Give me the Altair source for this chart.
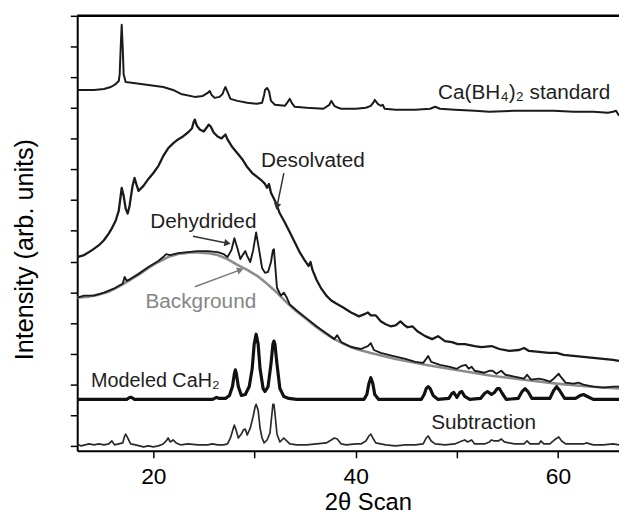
import altair as alt
import pandas as pd

# ---------------- data (2θ in degrees, intensity in arb. units) ----------------
STANDARD = [(12.47,360),(14.13,360),(15.11,361),(15.79,363),(16.28,366),(16.58,369),(16.67,376),(16.77,403),(16.87,426),(16.97,403),(17.06,376),(17.26,368),(18.04,367),(19.51,365),(20.97,363),(21.95,360),(22.73,356),(24.10,353),(24.89,354),(25.37,357),(25.57,359),(25.76,355),(26.06,352),(26.55,353),(26.84,356),(27.03,361),(27.13,363),(27.33,358),(27.62,351),(28.31,349),(29.28,347),(30.26,346),(30.75,347),(30.95,355),(31.04,360),(31.24,362),(31.43,359),(31.63,349),(32.02,345),(33.00,344),(33.29,348),(33.49,351),(33.68,347),(33.98,343),(35.15,342),(36.81,341),(37.40,345),(37.59,349),(37.89,344),(38.28,342),(38.57,341),(40.04,341),(41.01,342),(41.50,344),(41.80,348),(41.89,350),(42.19,346),(42.48,344),(42.68,345),(42.87,341),(43.95,340),(45.90,340),(47.37,341),(47.86,343),(48.34,341),(49.81,340),(51.77,339),(53.23,338),(55.68,339),(59.58,339),(61.54,338),(63.50,338),(64.96,337),(65.45,338),(65.75,339),(66.04,334)]

DESOLVATED = [(12.47,191),(13.16,193),(13.94,198),(14.62,203),(15.11,208),(15.60,215),(15.89,220),(16.28,228),(16.58,238),(16.77,253),(16.87,261),(17.06,253),(17.26,240),(17.46,235),(17.65,243),(17.94,263),(18.14,271),(18.34,264),(18.53,258),(19.02,263),(19.51,270),(20.00,276),(20.49,283),(20.97,293),(21.46,301),(21.95,306),(22.44,310),(22.93,313),(23.42,317),(23.81,321),(24.00,328),(24.10,330),(24.30,324),(24.59,320),(24.98,318),(25.28,322),(25.47,325),(25.67,323),(25.96,317),(26.35,313),(26.74,311),(27.13,315),(27.33,310),(27.82,302),(28.31,296),(28.79,290),(29.28,282),(29.77,276),(30.26,272),(30.75,268),(31.04,265),(31.24,261),(31.43,265),(31.63,256),(32.02,248),(32.51,235),(33.00,226),(33.49,216),(33.98,206),(34.46,196),(34.95,188),(35.34,182),(35.54,186),(35.73,178),(36.13,168),(36.61,159),(37.10,152),(37.59,147),(38.08,144),(38.77,140),(39.55,135),(40.33,131),(40.82,133),(41.21,135),(41.50,132),(41.99,132),(42.48,126),(42.97,123),(43.46,121),(43.95,122),(44.43,126),(44.73,123),(45.12,120),(45.61,121),(46.10,116),(46.88,111),(47.56,108),(48.15,111),(48.83,106),(49.52,105),(50.10,103),(50.79,103),(51.77,101),(52.45,100),(53.43,101),(54.21,98),(55.19,96),(56.17,97),(56.65,99),(57.14,96),(58.12,95),(59.10,94),(59.88,94),(60.56,92),(61.54,91),(62.52,90),(63.50,89),(64.47,88),(65.45,87),(66.04,86)]

DEHYDRIDED = [(12.47,150),(13.16,152),(14.13,152),(15.11,155),(15.60,157),(16.09,159),(16.58,162),(16.97,164),(17.16,171),(17.36,167),(17.75,169),(18.53,174),(19.51,181),(20.49,187),(20.97,191),(21.27,194),(21.66,193),(22.44,195),(23.42,196),(24.40,197),(25.37,197),(26.35,196),(26.94,194),(27.33,191),(27.72,198),(28.01,210),(28.31,200),(28.60,189),(28.89,194),(29.09,197),(29.28,192),(29.58,186),(29.87,198),(30.16,216),(30.46,198),(30.75,180),(31.04,175),(31.34,176),(31.63,186),(31.82,198),(31.92,199),(32.02,186),(32.22,160),(32.61,152),(32.90,155),(33.19,150),(33.49,143),(34.17,137),(35.15,129),(36.13,121),(37.10,114),(37.89,108),(38.18,112),(38.57,105),(39.55,100),(40.52,98),(41.21,101),(41.50,104),(41.80,97),(42.48,94),(43.65,91),(44.92,88),(45.90,85),(46.68,84),(46.98,88),(47.17,91),(47.47,85),(48.34,82),(49.32,80),(50.01,78),(50.50,81),(50.89,82),(51.18,78),(51.47,80),(51.77,76),(52.74,74),(53.23,76),(53.53,76),(53.92,73),(54.40,76),(54.80,72),(55.68,70),(56.65,68),(56.95,72),(57.34,67),(58.12,68),(58.61,67),(59.20,65),(59.58,68),(60.08,73),(60.27,70),(60.76,64),(61.54,63),(62.03,64),(62.52,62),(63.50,60),(64.47,59),(65.45,60),(66.04,60)]

BACKGROUND = [(12.47,150),(13.64,151),(14.62,153),(15.60,156),(16.58,161),(17.55,167),(18.53,173),(19.51,180),(20.49,186),(21.46,191),(22.44,194),(23.91,196),(25.37,195),(26.35,193),(27.33,189),(28.31,183),(29.28,178),(30.26,172),(31.24,164),(32.22,155),(33.19,145),(34.17,136),(35.15,128),(36.13,120),(37.10,113),(38.08,107),(39.06,102),(40.04,98),(41.50,94),(43.95,88),(46.88,82),(49.81,77),(53.43,71),(56.65,67),(59.88,63),(63.01,60),(66.04,58)]

MODELED = [(12.47,47),(17.36,47),(17.65,49),(17.85,49),(18.14,47),(25.86,47),(26.25,49),(26.55,48),(27.13,48),(27.52,51),(27.82,60),(28.01,73),(28.11,77),(28.21,73),(28.40,60),(28.70,51),(29.09,52),(29.48,60),(29.77,78),(29.97,103),(30.16,113),(30.36,103),(30.55,78),(30.85,58),(31.04,55),(31.34,60),(31.63,83),(31.82,103),(31.92,106),(32.02,103),(32.22,83),(32.51,58),(32.90,50),(33.39,48),(34.17,47),(40.82,47),(41.11,52),(41.31,63),(41.50,69),(41.70,63),(41.89,52),(42.28,47),(46.49,47),(46.78,52),(46.98,58),(47.17,60),(47.37,58),(47.66,51),(48.15,47),(49.22,48),(49.52,53),(49.71,54),(50.01,49),(50.30,54),(50.50,55),(50.79,50),(51.28,47),(52.35,48),(52.74,53),(53.04,55),(53.43,52),(53.72,54),(54.01,58),(54.21,58),(54.50,53),(54.89,47),(56.07,48),(56.46,55),(56.75,58),(57.04,55),(57.43,48),(59.20,48),(59.58,56),(59.88,60),(60.17,56),(60.66,48),(61.74,48),(62.23,51),(62.52,52),(62.91,50),(63.50,47),(66.04,47)]

SUBTRACTION = [(12.47,2),(12.86,0),(13.25,1),(13.64,2),(14.13,1),(14.62,2),(15.11,1),(15.60,2),(15.89,5),(16.18,1),(16.58,2),(16.97,3),(17.16,10),(17.26,12),(17.46,8),(17.75,2),(18.24,1),(19.02,-1),(19.51,0),(20.00,-1),(20.49,0),(20.97,2),(21.27,5),(21.46,8),(21.66,4),(21.95,6),(22.25,3),(22.73,1),(23.42,2),(24.40,1),(25.37,1),(25.86,2),(26.35,1),(26.94,1),(27.33,2),(27.62,8),(27.91,18),(28.01,21),(28.21,15),(28.40,8),(28.70,12),(28.89,16),(29.09,17),(29.28,11),(29.58,18),(29.87,30),(30.07,40),(30.16,42),(30.36,36),(30.55,18),(30.75,8),(30.95,3),(31.24,6),(31.53,13),(31.73,33),(31.82,42),(31.92,42),(32.02,33),(32.22,12),(32.51,4),(32.90,8),(33.19,5),(33.49,2),(34.17,1),(35.15,1),(36.13,2),(37.10,3),(37.59,6),(37.89,8),(38.18,7),(38.57,2),(39.06,1),(40.04,2),(40.52,2),(41.01,5),(41.31,10),(41.50,12),(41.70,8),(41.99,3),(42.97,1),(43.95,0),(44.92,1),(45.90,1),(46.68,2),(46.98,8),(47.17,10),(47.47,5),(47.86,2),(48.83,1),(49.81,2),(50.50,5),(50.79,6),(51.08,4),(51.47,6),(51.77,2),(52.74,2),(53.23,4),(53.43,6),(53.72,5),(54.11,5),(54.40,7),(54.70,4),(55.68,2),(56.65,2),(56.95,5),(57.24,2),(58.12,2),(58.31,5),(58.61,2),(59.20,2),(59.78,7),(60.08,9),(60.37,5),(60.76,2),(61.54,2),(62.52,2),(62.81,3),(63.50,1),(64.47,1),(65.45,2),(66.04,1)]

LABEL_TEXT = ["Ca(BH₄)₂ standard", "Desolvated", "Dehydrided", "Background", "Modeled CaH₂", "Subtraction"]
LABEL_X = [48.15, 30.65, 19.70, 19.22, 13.84, 47.47]
LABEL_Y = [357, 288, 226, 145, 66, 23]
LABEL_COLOR = ["#1e1e1e", "#1e1e1e", "#1e1e1e", "#858585", "#1e1e1e", "#1e1e1e"]
LABEL_SIZE = [21, 21, 21, 21, 20, 21]

ARROW_X1 = [32.90, 23.91, 24.10]
ARROW_Y1 = [276, 212, 161]
ARROW_X2 = [32.22, 27.33, 28.60]
ARROW_Y2 = [242, 205, 178]
ARROW_ANGLE = [191.6, 101.3, 69.7]
ARROW_COLOR = ["#333333", "#333333", "#7a7a7a"]

X_DOMAIN = [12.47, 66.04]
Y_DOMAIN = [-5, 435]
X_TICKS = [20, 30, 40, 50, 60]
Y_TICKS = [round(435 / 14 * k, 3) for k in range(15)]

FONT = "Liberation Sans"

xs = alt.Scale(domain=X_DOMAIN, nice=False, zero=False)
ys = alt.Scale(domain=Y_DOMAIN, nice=False, zero=False)

x_axis = alt.Axis(values=X_TICKS, labelExpr="datum.value % 20 == 0 ? datum.label : ''",
                  grid=False, tickSize=7, tickWidth=1.5, tickColor="black",
                  domainColor="black", domainWidth=2, labelFontSize=23, labelPadding=8,
                  labelColor="black", labelFont=FONT, titleFont=FONT, titleFontSize=24,
                  titleFontWeight="normal", titleColor="black", titleX=294, titleY=59,
                  titleBaseline="alphabetic", titleAlign="center")
y_axis = alt.Axis(values=Y_TICKS, labels=False, grid=False, tickSize=7, tickWidth=1.5,
                  tickColor="black", domainColor="black", domainWidth=2,
                  titleFont=FONT, titleFontSize=25.5, titleFontWeight="normal",
                  titleColor="black", titleX=-53, titleY=236, titleAngle=270,
                  titleBaseline="middle", titleAlign="center")

X_TITLE = "2θ Scan"
Y_TITLE = "Intensity (arb. units)"


def X(f):
    return alt.X(f, type="quantitative", scale=xs, axis=x_axis, title=X_TITLE)


def Y(f):
    return alt.Y(f, type="quantitative", scale=ys, axis=y_axis, title=Y_TITLE)


def frame(points):
    return pd.DataFrame(points, columns=["t", "i"])


def curve(points, color, width):
    return alt.Chart(frame(points)).mark_line(color=color, strokeWidth=width,
                                              strokeJoin="round").encode(x=X("t"), y=Y("i"))


layers = [
    curve(STANDARD, "#1a1a1a", 2.0),
    curve(DESOLVATED, "#1a1a1a", 2.3),
    curve(BACKGROUND, "#8c8c8c", 2.6),
    curve(DEHYDRIDED, "#1a1a1a", 1.9),
    curve(MODELED, "#111111", 3.2),
    curve(SUBTRACTION, "#2a2a2a", 1.7),
]

arrows = pd.DataFrame({"x1": ARROW_X1, "y1": ARROW_Y1, "x2": ARROW_X2, "y2": ARROW_Y2,
                       "a": ARROW_ANGLE, "c": ARROW_COLOR})
arrow_lines = alt.Chart(arrows).mark_rule(strokeWidth=1.5).encode(
    x=X("x1"), y=Y("y1"), x2="x2:Q", y2="y2:Q", color=alt.Color("c:N", scale=None))
arrow_heads = alt.Chart(arrows).mark_point(shape="triangle-up", filled=True, size=55,
                                           opacity=1).encode(
    x=X("x2"), y=Y("y2"), angle=alt.Angle("a:Q", scale=None),
    color=alt.Color("c:N", scale=None))

labels = pd.DataFrame({"x": LABEL_X, "y": LABEL_Y, "text": LABEL_TEXT,
                       "c": LABEL_COLOR, "s": LABEL_SIZE})
label_layer = alt.Chart(labels).mark_text(align="left", baseline="middle", font=FONT).encode(
    x=X("x"), y=Y("y"), text="text:N", color=alt.Color("c:N", scale=None),
    size=alt.Size("s:Q", scale=None))

top = pd.DataFrame({"x1": [X_DOMAIN[0]], "x2": [X_DOMAIN[1]], "y": [Y_DOMAIN[1]]})
top_rule = alt.Chart(top).mark_rule(strokeWidth=2.5, color="black").encode(
    x=X("x1"), x2="x2:Q", y=Y("y"))

chart = alt.layer(*layers, arrow_lines, arrow_heads, label_layer, top_rule).properties(
    width=548, height=440,
    padding={"left": 70, "top": 5, "right": 0, "bottom": 64},
    autosize=alt.AutoSizeParams(type="none"),
).configure_view(stroke="#c8c8c8", strokeWidth=1).configure(font=FONT)

chart.save("out.html", embed_options={"renderer": "svg", "actions": False})
